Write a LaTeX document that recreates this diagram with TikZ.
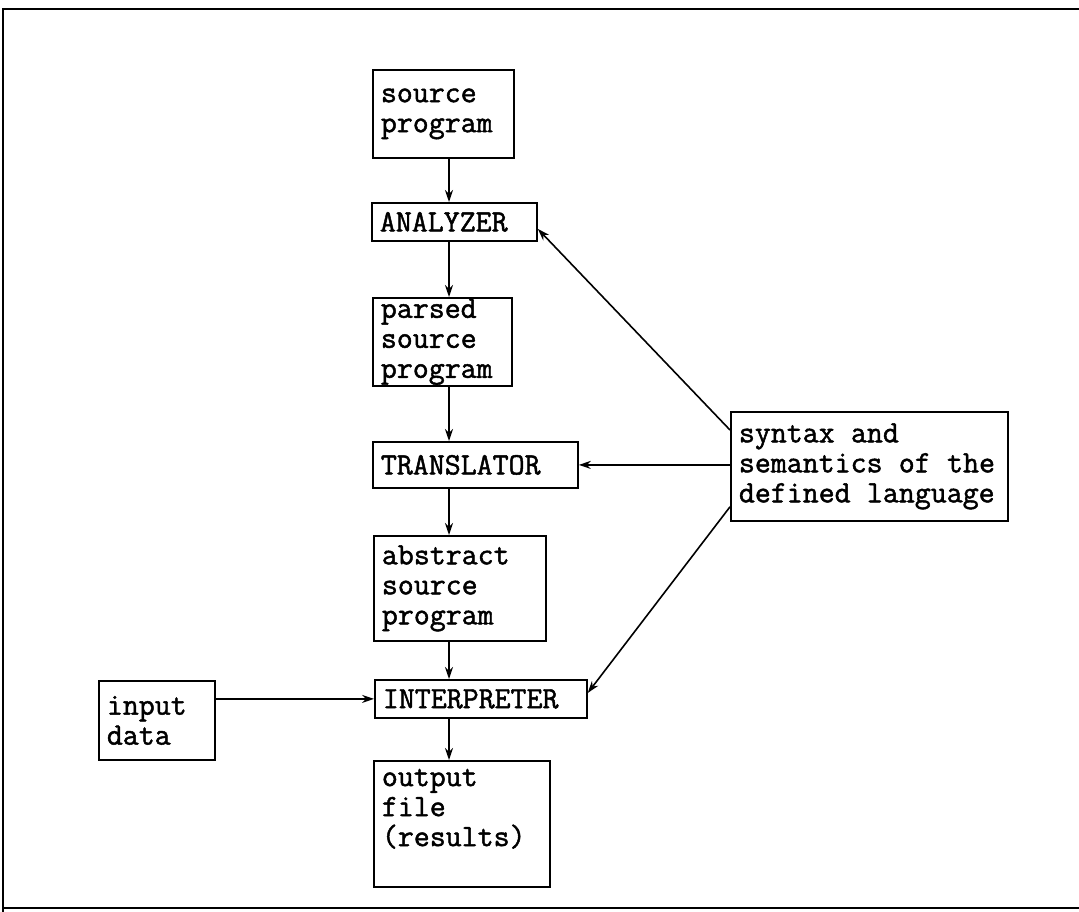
\documentclass[tikz,border=0pt]{standalone}
\usepackage{fontspec}
\setmonofont[FakeBold=1.5]{Latin Modern Mono}
\usetikzlibrary{arrows.meta,calc}
\begin{document}
\begin{tikzpicture}[x=1pt,y=-1pt,
  box/.style={draw, line width=1.8pt, font=\ttfamily\fontsize{31}{30}\selectfont,
    execute at begin node={\spaceskip=16.3pt\relax},
    align=left, inner xsep=8pt, inner ysep=0pt, anchor=north west},
  arr/.style={line width=1.6pt, -{Stealth[length=12pt,width=8pt]}},
  frame/.style={line width=2.2pt}]
\useasboundingbox (0,0) rectangle (1079,911);
\draw[frame] (3,940) -- (3,9) -- (1100,9);
\draw[frame] (3,908) -- (1100,908);
\node[box, minimum width=141pt, minimum height=88pt, text width=125pt] (src) at (372,69) {source\\program};
\node[box, minimum width=165pt, minimum height=38pt, text width=149pt] (ana) at (371,202) {ANALYZER};
\node[box, minimum width=139pt, minimum height=88pt, text width=123pt] (parsed) at (372,297) {parsed\\source\\program};
\node[box, minimum width=205pt, minimum height=46pt, text width=189pt] (trans) at (372,441) {TRANSLATOR};
\node[box, minimum width=172pt, minimum height=105pt, text width=156pt] (abs) at (373,535) {abstract\\source\\program};
\node[box, minimum width=212pt, minimum height=38pt, text width=196pt] (interp) at (374,679) {INTERPRETER};
\node[box, minimum width=176pt, inner ysep=8pt] (out) at (373,760) {\parbox[t][110pt][t]{160pt}{output\\file\\(results)}};
\node[box, minimum width=116pt, minimum height=79pt, text width=100pt] (inp) at (98,680) {input\\data};
\node[box, minimum width=277pt, minimum height=109pt, text width=261pt] (syn) at (730,411) {syntax and\\semantics of the\\defined language};
\coordinate (vx) at (449,0);
\draw[arr] (src.south -| vx) -- (ana.north -| vx);
\draw[arr] (ana.south -| vx) -- (parsed.north -| vx);
\draw[arr] (parsed.south -| vx) -- (trans.north -| vx);
\draw[arr] (trans.south -| vx) -- (abs.north -| vx);
\draw[arr] (abs.south -| vx) -- (interp.north -| vx);
\draw[arr] (interp.south -| vx) -- (out.north -| vx);
\draw[arr] (inp.east |- interp.west) -- (interp.west);
\draw[arr] ($(syn.north west)+(0,19)$) -- ($(ana.east)+(0,7)$);
\draw[arr] (syn.west |- trans.east) -- (trans.east);
\draw[arr] ($(syn.south west)+(0,-15)$) -- ($(interp.east)+(0,-6)$);
\end{tikzpicture}
\end{document}
